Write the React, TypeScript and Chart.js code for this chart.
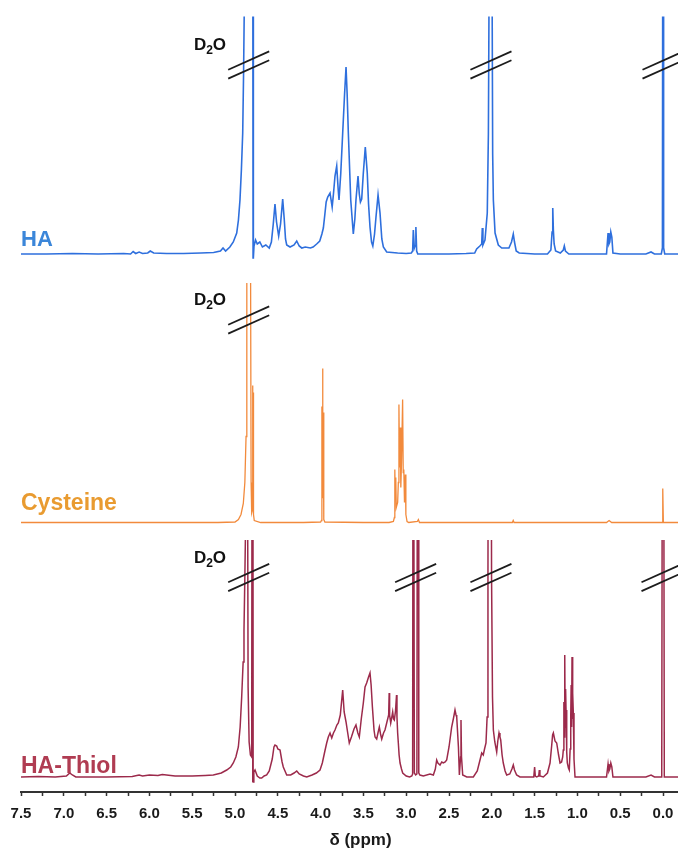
import React, { useEffect, useRef } from "react";
import { Chart, registerables } from "chart.js";

Chart.register(...registerables);

// ---------- DATA (ppm, intensity above each trace's own baseline) ----------
const seriesNames = ["HA", "Cysteine", "HA-Thiol"];

const majorTickValues = [7.5, 7.0, 6.5, 6.0, 5.5, 5.0, 4.5, 4.0, 3.5, 3.0, 2.5, 2.0, 1.5, 1.0, 0.5, 0.0];
const minorTickValues = [7.25, 6.75, 6.25, 5.75, 5.25, 4.75, 4.25, 3.75, 3.25, 2.75, 2.25, 1.75, 1.25, 0.75, 0.25];

const solventLabel = "D2O";
const solventLabelPpm = 5.48;

const haBreaks = [4.84, 2.01, 0.0];
const cysteineBreaks = [4.84];
const haThiolBreaks = [4.84, 2.89, 2.01, 0.012];

const haSpectrum: [number, number][] = [
  [7.5, 0], [7.2, 0], [6.9, 0.5], [6.6, 0], [6.3, 0.5],
  [6.22, 0], [6.19, 2.5], [6.16, 0.5], [6.12, 2], [6.08, 0.5], [6.02, 1], [5.99, 3], [5.95, 1],
  [5.8, 0.5], [5.6, 0.5], [5.4, 1], [5.25, 1.5], [5.17, 3], [5.14, 6], [5.11, 3], [5.06, 7],
  [5.02, 12], [4.98, 21], [4.96, 34], [4.942, 54], [4.925, 85], [4.91, 121], [4.9, 180], [4.89, 260],
  [4.87, 450], [4.84, 600], [4.81, 600], [4.795, 600], [4.789, -4], [4.787, 600], [4.784, -4],
  [4.778, 8], [4.76, 14], [4.74, 10], [4.71, 12], [4.68, 7], [4.64, 9], [4.6, 6], [4.575, 12],
  [4.553, 30], [4.533, 50], [4.515, 32], [4.49, 18], [4.468, 30], [4.443, 55], [4.425, 35],
  [4.41, 15], [4.396, 9], [4.357, 7], [4.31, 9], [4.279, 13], [4.25, 8], [4.22, 6], [4.18, 7],
  [4.12, 6], [4.088, 7], [4.046, 10], [4.01, 13], [3.985, 20], [3.968, 26], [3.95, 40], [3.935, 52],
  [3.917, 57], [3.89, 61], [3.865, 47], [3.85, 60], [3.832, 78], [3.812, 88], [3.795, 65],
  [3.785, 54], [3.765, 80], [3.742, 121], [3.72, 160], [3.703, 187], [3.69, 160], [3.676, 121],
  [3.648, 54], [3.618, 20], [3.6, 35], [3.587, 54], [3.563, 78], [3.548, 60], [3.535, 52],
  [3.52, 55], [3.501, 81], [3.478, 107], [3.455, 81], [3.44, 50], [3.423, 27], [3.405, 12],
  [3.39, 8], [3.37, 20], [3.353, 37], [3.329, 59], [3.306, 41], [3.285, 15], [3.267, 7],
  [3.228, 2], [3.1, 1], [3.0, 0.5], [2.94, 1], [2.925, 3], [2.917, 24], [2.905, 6], [2.897, 8],
  [2.887, 27], [2.878, 3], [2.865, 0], [2.7, 0], [2.5, 0], [2.3, 0.5], [2.2, 1], [2.177, 5],
  [2.14, 8], [2.118, 10], [2.111, 26], [2.104, 9], [2.08, 14], [2.053, 41], [2.04, 120],
  [2.03, 300], [2.013, 600], [1.998, 300], [1.99, 100], [1.982, 54], [1.962, 21], [1.924, 9],
  [1.884, 6], [1.8, 6], [1.77, 12], [1.749, 20], [1.735, 12], [1.715, 3], [1.68, 1], [1.5, 0],
  [1.35, 0], [1.31, 4], [1.296, 22], [1.288, 46], [1.281, 24], [1.272, 10], [1.255, 3], [1.2, 1],
  [1.165, 4], [1.153, 8], [1.14, 3], [1.1, 0], [0.8, 0], [0.66, 0], [0.642, 21], [0.632, 10],
  [0.622, 12], [0.61, 22], [0.598, 17], [0.585, 1], [0.5, 0], [0.2, 0], [0.14, 2], [0.1, 0],
  [0.02, 0], [0.007, 6], [0.0, 600], [-0.007, 6], [-0.02, 0], [-0.432, 0],
];

const cysteineSpectrum: [number, number][] = [
  [7.5, 0], [6.0, 0], [5.2, 0], [5.0, 0.5], [4.96, 3], [4.93, 8], [4.903, 19], [4.885, 40],
  [4.871, 86], [4.862, 250], [4.845, 500], [4.83, 500], [4.818, 250], [4.812, 40], [4.805, 10],
  [4.799, 12], [4.795, 137], [4.791, 90], [4.788, 130], [4.784, 8], [4.775, 2], [4.7, 0],
  [4.2, 0], [4.0, 0.5], [3.99, 2], [3.985, 116], [3.981, 25], [3.977, 154], [3.973, 30],
  [3.969, 110], [3.963, 3], [3.95, 0.5], [3.5, 0], [3.2, 0], [3.15, 1], [3.138, 5], [3.133, 53],
  [3.128, 25], [3.122, 45], [3.116, 15], [3.1, 20], [3.092, 40], [3.085, 118], [3.078, 55],
  [3.07, 95], [3.063, 35], [3.055, 60], [3.042, 123], [3.035, 50], [3.028, 53], [3.02, 20],
  [3.01, 48], [3.004, 8], [2.99, 1], [2.97, 0], [2.87, 1], [2.858, 3], [2.845, 0], [2.0, 0],
  [1.76, 0], [1.75, 2], [1.74, 0], [0.66, 0], [0.63, 2], [0.6, 0], [0.01, 0], [0.003, 34],
  [-0.004, 0], [-0.432, 0],
];

const haThiolSpectrum: [number, number][] = [
  [7.5, 0], [7.3, 0.5], [7.1, 0], [6.97, 1], [6.93, 4], [6.9, 2], [6.86, 0], [6.5, 0], [6.2, 0.5],
  [6.12, 2], [6.08, 1], [6.0, 2], [5.9, 1.5], [5.85, 2.5], [5.7, 1], [5.5, 1], [5.35, 1.5],
  [5.254, 2], [5.16, 4], [5.097, 7], [5.05, 10], [5.02, 14], [4.99, 20], [4.961, 30], [4.94, 50],
  [4.922, 80], [4.905, 115], [4.895, 147], [4.885, 200], [4.875, 260], [4.862, 500], [4.852, 260],
  [4.847, 90], [4.835, 35], [4.82, 22], [4.805, 20], [4.798, 600], [4.794, -5], [4.791, 600],
  [4.788, -5], [4.78, 5], [4.766, 7], [4.74, 1], [4.71, -1], [4.688, -1], [4.66, 1], [4.63, 2],
  [4.6, 6], [4.565, 18], [4.545, 30], [4.533, 32], [4.513, 31], [4.5, 28], [4.474, 27], [4.45, 15],
  [4.436, 10], [4.396, 2], [4.35, 2], [4.31, 4], [4.279, 6], [4.25, 3], [4.2, 1], [4.162, 0],
  [4.1, 2], [4.05, 4], [4.007, 7], [3.98, 14], [3.95, 26], [3.929, 34], [3.91, 40], [3.89, 44],
  [3.87, 39], [3.85, 44], [3.832, 47], [3.81, 52], [3.793, 54], [3.77, 62], [3.742, 87],
  [3.725, 65], [3.703, 55], [3.685, 45], [3.665, 34], [3.64, 40], [3.61, 48], [3.587, 52],
  [3.565, 44], [3.548, 40], [3.525, 58], [3.501, 74], [3.481, 90], [3.462, 94], [3.44, 100],
  [3.423, 104], [3.41, 92], [3.395, 70], [3.376, 47], [3.364, 40], [3.345, 38], [3.33, 44],
  [3.314, 50], [3.3, 43], [3.286, 38], [3.265, 44], [3.248, 47], [3.228, 54], [3.205, 62],
  [3.199, 84], [3.194, 62], [3.181, 54], [3.168, 60], [3.158, 65], [3.148, 58], [3.139, 57],
  [3.125, 66], [3.113, 82], [3.108, 60], [3.1, 44], [3.092, 34], [3.083, 22], [3.072, 14],
  [3.055, 8], [3.041, 4], [3.0, 1], [2.96, 0], [2.935, 1], [2.925, 3], [2.918, 600], [2.911, 600],
  [2.905, 4], [2.89, 2], [2.875, 3], [2.866, 600], [2.859, 600], [2.853, 4], [2.84, 2], [2.8, 1],
  [2.722, 3], [2.683, 2], [2.66, 8], [2.644, 17], [2.63, 14], [2.605, 12], [2.585, 15],
  [2.566, 14], [2.545, 15], [2.527, 17], [2.5, 30], [2.469, 50], [2.445, 60], [2.43, 67],
  [2.418, 62], [2.41, 60], [2.39, 30], [2.379, 2], [2.365, 20], [2.36, 57], [2.354, 20], [2.34, 2],
  [2.293, 0], [2.216, 0], [2.17, 6], [2.135, 18], [2.118, 24], [2.1, 22], [2.085, 28], [2.068, 34],
  [2.055, 60], [2.045, 200], [2.038, 600], [2.012, 600], [2.003, 200], [1.992, 80], [1.982, 47],
  [1.965, 35], [1.943, 25], [1.93, 36], [1.916, 44], [1.905, 40], [1.896, 37], [1.88, 22],
  [1.866, 14], [1.845, 6], [1.826, 2], [1.79, 3], [1.765, 8], [1.749, 12], [1.735, 7], [1.71, 2],
  [1.671, 0], [1.51, 0], [1.5, 10], [1.492, 1], [1.476, 0], [1.452, 1], [1.445, 7], [1.438, 1],
  [1.398, 0], [1.35, 4], [1.32, 14], [1.3, 32], [1.29, 42], [1.281, 44], [1.262, 36], [1.242, 34],
  [1.22, 22], [1.203, 14], [1.185, 15], [1.172, 20], [1.165, 27], [1.158, 75], [1.153, 40],
  [1.148, 122], [1.143, 50], [1.138, 88], [1.133, 67], [1.125, 25], [1.118, 14], [1.105, 9],
  [1.095, 7], [1.085, 28], [1.078, 60], [1.073, 92], [1.068, 50], [1.063, 120], [1.058, 58],
  [1.053, 84], [1.048, 64], [1.04, 18], [1.028, 0], [0.9, 0], [0.7, 0], [0.66, 0], [0.642, 13],
  [0.632, 6], [0.622, 8], [0.61, 14], [0.598, 10], [0.585, 0], [0.2, 0], [0.14, 2], [0.1, 0],
  [0.015, 0], [0.004, 600], [-0.004, 600], [-0.015, 0], [-0.432, 0],
];

// ---------- STYLE / LAYOUT ----------
const FONT = '"Liberation Sans", Arial, Helvetica, sans-serif';
const Y_MAX = 792;
const X_MIN = -0.432;
const X_MAX = 7.5;

const panels = [
  { name: seriesNames[0], data: haSpectrum, offset: 538, cap: 237.5, color: "#2e6fdd", labelColor: "#3b86d9", width: 1.6, labelSize: 22, labelGap: 8, breaks: haBreaks, breakHeight: 189 },
  { name: seriesNames[1], data: cysteineSpectrum, offset: 269.5, cap: 239.5, color: "#f28a3c", labelColor: "#e99b30", width: 1.3, labelSize: 23, labelGap: 13, breaks: cysteineBreaks, breakHeight: 202.5 },
  { name: seriesNames[2], data: haThiolSpectrum, offset: 15, cap: 237, color: "#9c2a4b", labelColor: "#b03c52", width: 1.5, labelSize: 23, labelGap: 4, breaks: haThiolBreaks, breakHeight: 199.5 },
];

const annotationPlugin = {
  id: "nmrAnnotations",
  afterDatasetsDraw(chart: any) {
    const { ctx, chartArea, scales } = chart;
    const x = scales.x;
    const y = scales.y;
    ctx.save();
    panels.forEach((p) => {
      const base = y.getPixelForValue(p.offset);
      // series name
      ctx.fillStyle = p.labelColor;
      ctx.font = `bold ${p.labelSize}px ${FONT}`;
      ctx.textAlign = "left";
      ctx.textBaseline = "alphabetic";
      ctx.fillText(p.name, chartArea.left, base - p.labelGap);
      // axis-break marks
      ctx.strokeStyle = "#1c1c1c";
      ctx.lineWidth = 1.8;
      p.breaks.forEach((ppm) => {
        const cx = x.getPixelForValue(ppm);
        const cy = y.getPixelForValue(p.offset + p.breakHeight);
        [-4.4, 4.4].forEach((d) => {
          ctx.beginPath();
          ctx.moveTo(cx - 20.5, cy + d + 9.2);
          ctx.lineTo(cx + 20.5, cy + d - 9.2);
          ctx.stroke();
        });
      });
      // D2O label
      const lx = x.getPixelForValue(solventLabelPpm);
      const ly = y.getPixelForValue(p.offset + p.breakHeight + 15);
      ctx.fillStyle = "#111111";
      ctx.font = `bold 17px ${FONT}`;
      ctx.fillText(solventLabel[0], lx, ly);
      let w = ctx.measureText(solventLabel[0]).width;
      ctx.font = `bold 12px ${FONT}`;
      ctx.fillText(solventLabel[1], lx + w, ly + 4);
      w += ctx.measureText(solventLabel[1]).width;
      ctx.font = `bold 17px ${FONT}`;
      ctx.fillText(solventLabel[2], lx + w, ly);
    });
    ctx.restore();
  },
};

export default function App() {
  const canvasRef = useRef<HTMLCanvasElement | null>(null);

  useEffect(() => {
    if (!canvasRef.current) return;
    const allTicks = [...majorTickValues, ...minorTickValues].sort((a, b) => b - a);
    const chart = new Chart(canvasRef.current, {
      type: "line",
      data: {
        datasets: panels.map((p) => ({
          label: p.name,
          data: p.data.map(([ppm, v]) => ({ x: ppm, y: v + p.offset })),
          borderColor: p.color,
          backgroundColor: p.color,
          borderWidth: p.width,
          pointRadius: 0,
          tension: 0,
          fill: false,
          clip: { left: 0, right: 0, bottom: 0, top: -(Y_MAX - p.offset - p.cap) },
        })),
      },
      options: {
        animation: false,
        responsive: false,
        events: [],
        layout: { padding: { left: 21, right: 0, top: 0, bottom: -1 } },
        plugins: { legend: { display: false }, tooltip: { enabled: false } },
        scales: {
          x: {
            type: "linear",
            reverse: true,
            min: X_MIN,
            max: X_MAX,
            afterBuildTicks: (axis: any) => {
              axis.ticks = allTicks.map((v) => ({ value: v }));
            },
            ticks: {
              autoSkip: false,
              maxRotation: 0,
              minRotation: 0,
              padding: 9,
              color: "#1a1a1a",
              font: { family: FONT, size: 15, weight: "bold" },
              callback: (value: any) =>
                majorTickValues.some((m) => Math.abs(m - Number(value)) < 1e-6) ? Number(value).toFixed(1) : "",
            },
            grid: {
              display: true,
              drawOnChartArea: false,
              drawTicks: true,
              tickLength: 4,
              tickColor: "#333333",
              tickWidth: 1.5,
            },
            border: { display: true, color: "#333333", width: 2 },
            title: {
              display: true,
              text: "δ (ppm)",
              color: "#1a1a1a",
              font: { family: FONT, size: 17, weight: "bold", lineHeight: 1 },
              padding: { top: 0, bottom: 0 },
            },
          },
          y: { display: false, min: 0, max: Y_MAX },
        },
      },
      plugins: [annotationPlugin],
    } as any);
    return () => chart.destroy();
  }, []);

  return (
    <div
      style={{
        position: "fixed",
        left: 0,
        top: 0,
        width: 678,
        height: 848,
        overflow: "hidden",
        background: "#ffffff",
      }}
    >
      <canvas ref={canvasRef} width={700} height={848} style={{ display: "block", width: 700, height: 848 }} />
    </div>
  );
}
